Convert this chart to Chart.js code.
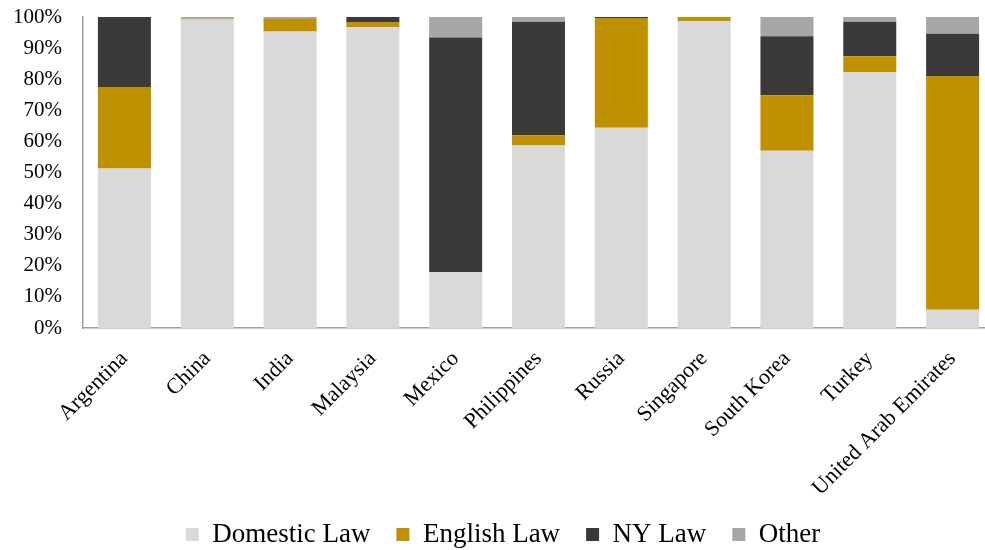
<!DOCTYPE html>
<html>
<head>
<meta charset="utf-8">
<script src="https://cdn.jsdelivr.net/npm/chart.js@4"></script>
<style>
    body { margin: 0; overflow: hidden; background: #fff; }
    #chart { display: block; }
</style>
</head>
<body>
<canvas id="chart" width="1024" height="550"></canvas>
<script>
// Countries on the x axis
const countries = ["Argentina", "China", "India", "Malaysia", "Mexico", "Philippines",
    "Russia", "Singapore", "South Korea", "Turkey", "United Arab Emirates"];

// Share of bonds by governing law (%)
const domesticLaw = [51.3, 99.2, 95.3, 96.7, 18.0, 58.7, 64.4, 98.7, 57.0, 82.2, 5.9];
const englishLaw  = [26.2, 0.2, 4.1, 1.7, 0, 3.3, 35.3, 1.3, 17.8, 5.2, 75.1];
const nyLaw       = [22.5, 0, 0.1, 1.6, 75.4, 36.5, 0.3, 0, 19.0, 11.1, 13.6];
const otherLaw    = [0, 0.6, 0.5, 0, 6.6, 1.5, 0, 0, 6.2, 1.5, 5.4];

const yTicks = [0, 10, 20, 30, 40, 50, 60, 70, 80, 90, 100];

const serif = "'Liberation Serif', 'Times New Roman', serif";

const ctx = document.getElementById("chart").getContext("2d");
new Chart(ctx, {
    type: "bar",
    data: {
        labels: countries,
        datasets: [
            { label: "Domestic Law", data: domesticLaw, backgroundColor: "#d9d9d9" },
            { label: "English Law", data: englishLaw, backgroundColor: "#bf9000" },
            { label: "NY Law", data: nyLaw, backgroundColor: "#3b3a38" },
            { label: "Other", data: otherLaw, backgroundColor: "#a6a6a6" }
        ]
    },
    options: {
        responsive: false,
        animation: false,
        layout: {
            padding: { left: 12, right: 30, top: 17, bottom: -8 }
        },
        datasets: {
            bar: {
                barPercentage: 1,
                categoryPercentage: 0.64,
                borderWidth: 0
            }
        },
        scales: {
            x: {
                stacked: true,
                afterFit: s => { s.paddingLeft = 0; s.paddingRight = 0; s.height = 167; },
                grid: { display: false },
                border: { display: true, color: "#a0a0a0", width: 1.5 },
                ticks: {
                    autoSkip: false,
                    minRotation: 45,
                    maxRotation: 45,
                    padding: 10,
                    color: "#000",
                    font: { family: serif, size: 22 }
                }
            },
            y: {
                stacked: true,
                min: 0,
                max: 100,
                afterBuildTicks: axis => {
                    axis.ticks = yTicks.map(v => ({ value: v }));
                },
                afterFit: s => { s.paddingTop = 0; s.paddingBottom = 0; s.width = 71; },
                grid: { display: false },
                border: { display: true, color: "#a0a0a0", width: 1.5 },
                ticks: {
                    padding: 13,
                    color: "#000",
                    font: { family: serif, size: 21 },
                    callback: value => value + "%"
                }
            }
        },
        plugins: {
            tooltip: { enabled: false },
            legend: {
                position: "bottom",
                labels: {
                    boxWidth: 13,
                    boxHeight: 13,
                    padding: 26,
                    color: "#000",
                    font: { family: serif, size: 27 }
                }
            }
        }
    }
});
</script>
</body>
</html>
